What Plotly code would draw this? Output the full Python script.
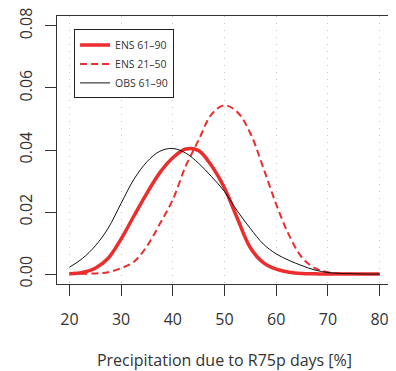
import plotly.graph_objects as go

# Values (density vs. percent)
x_vals = [20, 22.5, 25, 27.5, 30, 32.5, 35, 37.5, 40, 42.5, 45, 47.5, 50,
          52.5, 55, 57.5, 60, 62.5, 65, 67.5, 70, 72.5, 75, 77.5, 80]

obs_6190 = [0.0022, 0.0050, 0.0091, 0.0148, 0.0228, 0.0306, 0.0362, 0.0396, 0.0405, 0.0390,
            0.0357, 0.0314, 0.0266, 0.0203, 0.0147, 0.0097, 0.0065, 0.0044, 0.0027, 0.0013,
            0.0005, 0.0002, 0.0001, 0.0000, 0.0000]

ens_6190 = [0.0001, 0.0005, 0.0019, 0.0051, 0.0113, 0.0188, 0.0261, 0.0327, 0.0375, 0.0403,
            0.0398, 0.0349, 0.0277, 0.0179, 0.0085, 0.0037, 0.0016, 0.0006, 0.0002, 0.0001,
            0.0000, 0.0000, 0.0000, 0.0000, 0.0000]

ens_2150 = [0.0001, 0.0001, 0.0002, 0.0006, 0.0019, 0.0040, 0.0090, 0.0162, 0.0240, 0.0348,
            0.0432, 0.0515, 0.0544, 0.0522, 0.0454, 0.0343, 0.0225, 0.0125, 0.0053, 0.0019,
            0.0006, 0.0002, 0.0001, 0.0000, 0.0000]

x_ticks = [20, 30, 40, 50, 60, 70, 80]
y_ticks = [0.00, 0.02, 0.04, 0.06, 0.08]
y_tick_labels = ["0.00", "0.02", "0.04", "0.06", "0.08"]

RED = "#ec2d2d"
FONT = "Open Sans"
TXT = "#333333"

fig = go.Figure()
fig.add_trace(go.Scatter(x=x_vals, y=ens_6190, mode="lines", name="ENS 61\u201390",
                         line=dict(color=RED, width=3.5, shape="spline", smoothing=1.0)))
fig.add_trace(go.Scatter(x=x_vals, y=ens_2150, mode="lines", name="ENS 21\u201350",
                         line=dict(color=RED, width=2, dash="7px,4px", shape="spline", smoothing=1.0)))
fig.add_trace(go.Scatter(x=x_vals, y=obs_6190, mode="lines", name="OBS 61\u201390",
                         line=dict(color="#111111", width=1, shape="spline", smoothing=1.0)))

fig.update_layout(
    width=388, height=363,
    margin=dict(l=49, r=4, t=8, b=87),
    paper_bgcolor="white", plot_bgcolor="white",
    font=dict(family=FONT, size=15, color=TXT),
    showlegend=True,
    legend=dict(x=0.051, y=0.95, xanchor="left", yanchor="top",
                bgcolor="white", bordercolor="#222222", borderwidth=1,
                font=dict(family=FONT, size=10.5, color=TXT),
                itemwidth=30, tracegroupgap=0),
    xaxis=dict(range=[17.6, 82.4], tickvals=x_ticks, ticks="outside", ticklen=11,
               tickcolor="#333333", tickwidth=1, automargin=False,
               showline=True, mirror=True, linecolor="#333333", linewidth=1,
               showgrid=True, gridcolor="#c8c8c8", gridwidth=1, griddash="1px,6px",
               zeroline=False, ticklabelstandoff=10, ticklabeloverflow="allow",
               tickfont=dict(size=16),
               title=dict(text="Precipitation due to R75p days [%]", standoff=29,
                          font=dict(size=16))),
    yaxis=dict(range=[-0.0032, 0.0832], tickvals=y_ticks, ticktext=y_tick_labels,
               ticks="outside", ticklen=11, tickcolor="#333333", tickwidth=1,
               tickangle=-90, showline=True, mirror=True, linecolor="#333333", linewidth=1,
               showgrid=False, zeroline=False, ticklabelstandoff=7, automargin=False,
               ticklabeloverflow="allow",
               tickfont=dict(size=16)),
)

fig.write_html("out.html")
